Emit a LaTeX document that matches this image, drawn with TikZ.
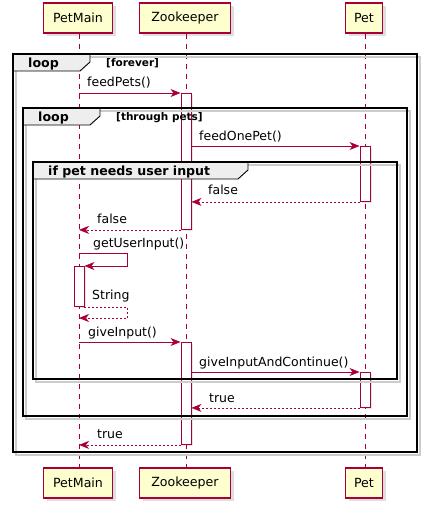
\documentclass[tikz,border=0pt]{standalone}
\usepackage{fontspec}
\setmainfont{DejaVu Sans}
\usetikzlibrary{arrows.meta,shadows}
\definecolor{umlred}{HTML}{A80036}
\definecolor{umlyellow}{HTML}{FEFECE}
\definecolor{umltab}{HTML}{EEEEEE}

\begin{document}
\begin{tikzpicture}[x=1pt,y=-1pt]
    \tikzset{
        actor/.style={draw=umlred,fill=umlyellow,line width=1.1pt,minimum height=30pt,
            inner sep=0pt,font=\fontsize{12.6}{15}\selectfont,
            drop shadow={shadow xshift=3pt,shadow yshift=-3pt,opacity=0.25}},
        life/.style={umlred,line width=0.7pt,dash pattern=on 5pt off 5pt},
        activ/.style={draw=umlred,fill=white,line width=0.9pt,minimum width=10pt,inner sep=0pt,anchor=north,
            drop shadow={shadow xshift=2pt,shadow yshift=-2pt,opacity=0.2}},
        call/.style={umlred,line width=0.8pt,-{Stealth[length=10pt,width=8pt,inset=3pt]}},
        reply/.style={call,dash pattern=on 2pt off 2pt},
        msg/.style={anchor=base west,inner sep=0pt,font=\fontsize{12.5}{15}\selectfont},
        frame/.style={line width=1.6pt},
        frameshade/.style={black!20,line width=1.8pt},
        tab/.style={fill=umltab,draw=black,line width=0.9pt},
        tabtext/.style={anchor=base west,inner sep=0pt,font=\fontsize{12.6}{15}\selectfont\bfseries},
        guard/.style={anchor=base west,inner sep=0pt,font=\fontsize{10.5}{12}\selectfont\bfseries},
    }
    \def\umlframe#1#2#3#4{% shadow of a frame: left, top, right, bottom
        \draw[frameshade] (#1+3,#2+3) rectangle (#3+3,#4+3);
    }
    \def\umltab#1#2#3{%
        \filldraw[tab] (#1,#2) -- (#3,#2) -- (#3,#2+8) -- (#3-10,#2+17) -- (#1,#2+17) -- cycle;
    }
    \useasboundingbox (0,0) rectangle (426,508);

    % participants
    \node[actor,minimum width=69pt] (petmain) at (78,18) {PetMain};
    \node[actor,minimum width=91pt] (zoo) at (185,18) {Zookeeper};
    \node[actor,minimum width=37pt] (pet) at (364,18) {Pet};
    \node[actor,minimum width=69pt] (petmainB) at (78,483) {PetMain};
    \node[actor,minimum width=91pt] (zooB) at (185,483) {Zookeeper};
    \node[actor,minimum width=37pt] (petB) at (364,483) {Pet};
    \draw[life] (petmain.south) ++(1,0) coordinate (pmL) -- (petmainB.north -| pmL);
    \draw[life] (zoo.south) ++(1,0) coordinate (zkL) -- (zooB.north -| zkL);
    \draw[life] (pet.south) ++(1,0) coordinate (ptL) -- (petB.north -| ptL);

    % activations
    \node[activ,minimum height=136pt] (zk1) at (186,93) {};
    \node[activ,minimum height=55pt] (pet1) at (365,146) {};
    \node[activ,minimum height=40pt] (pm1) at (79,266) {};
    \node[activ,minimum height=102pt] (zk2) at (186,342) {};
    \node[activ,minimum height=35pt] (pet2) at (365,372) {};

    % frames
    \umlframe{13}{54}{417}{452}
    \umlframe{23}{108}{407}{416}
    \umlframe{33}{162}{397}{379}
    \umltab{13}{54}{90}
    \umltab{23}{108}{100}
    \umltab{33}{162}{248}
    \draw[frame] (13,54) rectangle (417,452);
    \draw[frame] (23,108) rectangle (407,416);
    \draw[frame] (33,162) rectangle (397,379);
    \node[tabtext] (loopA) at (28,67.5) {loop};
    \node[guard] (forever) at (106,67) {[forever]};
    \node[tabtext] (loopB) at (38,121.5) {loop};
    \node[guard] (through) at (116,121) {[through pets]};
    \node[tabtext] (ifpet) at (48,175) {if pet needs user input};

    % messages
    \coordinate (m1) at (79,93);
    \draw[call] (m1) -- (zk1.north west);
    \node[msg] (l1) at (87,87) {feedPets()};
    \draw[call] (zk1.east |- pet1.north) -- (pet1.north west);
    \node[msg] (l2) at (199,140.5) {feedOnePet()};
    \draw[reply] (pet1.south west) -- (zk1.east |- pet1.south);
    \node[msg] (l3) at (208,194) {false};
    \draw[reply] (zk1.south west) -- (pmL |- zk1.south);
    \node[msg] (l4) at (97,223) {false};
    \coordinate (m5) at (79,253);
    \draw[call] (m5) -- ++(48,0) |- (pm1.north east);
    \node[msg] (l5) at (93,247) {getUserInput()};
    \coordinate (m6) at (79,318);
    \draw[reply] (pm1.south east) -- ++(43,0) |- (m6);
    \node[msg] (l6) at (92,299) {String};
    \coordinate (m7) at (79,342);
    \draw[call] (m7) -- (zk2.north west);
    \node[msg] (l7) at (88,336) {giveInput()};
    \draw[call] (zk2.east |- pet2.north) -- (pet2.north west);
    \node[msg] (l8) at (199,366) {giveInputAndContinue()};
    \draw[reply] (pet2.south west) -- (zk2.east |- pet2.south);
    \node[msg] (l9) at (209,402) {true};
    \draw[reply] (zk2.south west) -- (pmL |- zk2.south);
    \node[msg] (l10) at (97,438) {true};
\end{tikzpicture}
\end{document}
